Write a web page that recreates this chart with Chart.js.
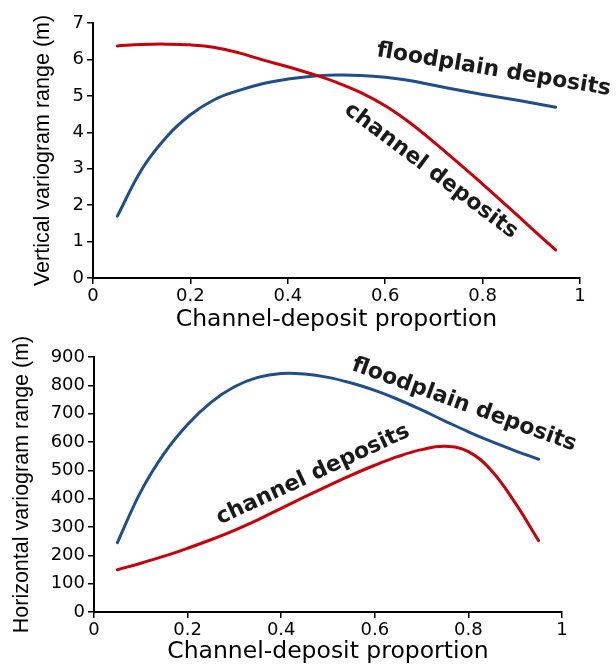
<!DOCTYPE html>
<html>
<head>
<meta charset="utf-8">
<script src="https://cdn.jsdelivr.net/npm/chart.js@4"></script>
<style>
    html, body { margin: 0; padding: 0; background: #fff; overflow: hidden; }
    #wrap { position: relative; width: 616px; height: 666px; }
    canvas { position: absolute; left: 0; }
    #topChart { top: 0; }
    #bottomChart { top: 333px; }
</style>
</head>
<body>
<div id="wrap">
    <canvas id="topChart" width="616" height="336"></canvas>
    <canvas id="bottomChart" width="616" height="333"></canvas>
</div>
<script>
/* =========================
   DATA
========================= */
const proportion = [0.05, 0.10, 0.15, 0.20, 0.25, 0.30, 0.35, 0.40, 0.45, 0.50,
                    0.55, 0.60, 0.65, 0.70, 0.75, 0.80, 0.85, 0.90, 0.95];

// vertical variogram range (m)
const vertChannel    = [6.37, 6.41, 6.42, 6.40, 6.33, 6.18, 5.98, 5.80, 5.60, 5.37,
                        5.09, 4.73, 4.27, 3.73, 3.16, 2.58, 1.98, 1.37, 0.77];
const vertFloodplain = [1.70, 2.98, 3.86, 4.48, 4.90, 5.15, 5.34, 5.46, 5.54, 5.57,
                        5.56, 5.51, 5.42, 5.29, 5.16, 5.04, 4.93, 4.81, 4.69];

// horizontal variogram range (m)
const horzChannel    = [149, 172, 197, 225, 255, 288, 325, 366, 406, 445,
                        483, 518, 549, 573, 585, 566, 498, 385, 252];
const horzFloodplain = [245, 425, 560, 662, 740, 795, 828, 842, 840, 828,
                        808, 782, 750, 713, 674, 636, 601, 569, 539];

const xTickValues = [0, 0.2, 0.4, 0.6, 0.8, 1];
const xTickLabels = ["0", "0.2", "0.4", "0.6", "0.8", "1"];

const RED = "#c8000a";
const BLUE = "#1f4e89";
const TICK_FONT = { family: "DejaVu Sans", size: 18 };

/* =========================
   PLUGIN: CURVE LABELS
========================= */
const curveLabels = {
    id: "curveLabels",
    afterDatasetsDraw(chart, args, opts) {
        const { ctx, scales: { x, y } } = chart;
        ctx.save();
        ctx.font = 'bold 22px "DejaVu Sans"';
        ctx.fillStyle = "#1a1a1a";
        ctx.textAlign = "center";
        ctx.textBaseline = "middle";
        (opts.items || []).forEach(l => {
            ctx.save();
            ctx.translate(x.getPixelForValue(l.x), y.getPixelForValue(l.y));
            ctx.rotate(l.angle * Math.PI / 180);
            ctx.fillText(l.text, 0, 0);
            ctx.restore();
        });
        ctx.restore();
    }
};

function toPoints(values) {
    return values.map((v, i) => ({ x: proportion[i], y: v }));
}

function makeChart(canvasId, cfg) {
    const ctx = document.getElementById(canvasId).getContext("2d");
    return new Chart(ctx, {
        type: "line",
        data: {
            datasets: [
                { data: toPoints(cfg.channel), borderColor: RED },
                { data: toPoints(cfg.floodplain), borderColor: BLUE }
            ]
        },
        plugins: [curveLabels],
        options: {
            responsive: false,
            animation: false,
            layout: { padding: cfg.padding },
            elements: {
                point: { radius: 0 },
                line: { borderWidth: 3, tension: 0.4, borderCapStyle: "round" }
            },
            plugins: {
                legend: { display: false },
                tooltip: { enabled: false },
                curveLabels: { items: cfg.labels }
            },
            scales: {
                x: {
                    type: "linear",
                    min: 0, max: 1,
                    afterBuildTicks: s => { s.ticks = xTickValues.map(v => ({ value: v })); },
                    afterFit: s => { s.height = cfg.xHeight; },
                    ticks: {
                        font: TICK_FONT, color: "#000", padding: 2, maxRotation: 0,
                        callback: (v, i) => xTickLabels[i]
                    },
                    grid: { drawOnChartArea: false, drawTicks: true, tickLength: 6, color: "#000", lineWidth: 1.5 },
                    border: { display: true, color: "#000", width: 2 },
                    title: {
                        display: true, text: "Channel-deposit proportion", color: "#000",
                        font: { family: "DejaVu Sans", size: 23.5 },
                        padding: { top: 0, bottom: cfg.xTitlePad }
                    }
                },
                y: {
                    min: 0, max: cfg.yMax,
                    afterFit: s => { s.width = cfg.yWidth; },
                    ticks: { font: TICK_FONT, color: "#000", padding: 3, stepSize: cfg.yStep },
                    grid: { drawOnChartArea: false, drawTicks: true, tickLength: 6, color: "#000", lineWidth: 1.5 },
                    border: { display: true, color: "#000", width: 2 },
                    title: {
                        display: true, text: cfg.yTitle, color: "#000",
                        font: { family: "Liberation Sans", size: 21.5 },
                        padding: { top: cfg.yTitlePad, bottom: 0 }
                    }
                }
            }
        }
    });
}

/* =========================
   INIT
========================= */
makeChart("topChart", {
    channel: vertChannel,
    floodplain: vertFloodplain,
    yMax: 7, yStep: 1,
    yTitle: "Vertical variogram range (m)",
    yWidth: 93, xHeight: 58,
    yTitlePad: 30, xTitlePad: 2,
    padding: { top: 23, right: 36, left: 0, bottom: 0 },
    labels: [
        { text: "floodplain deposits", x: 0.823, y: 5.71, angle: 9.5 },
        { text: "channel deposits", x: 0.694, y: 2.94, angle: 37 }
    ]
});

makeChart("bottomChart", {
    channel: horzChannel,
    floodplain: horzFloodplain,
    yMax: 900, yStep: 100,
    yTitle: "Horizontal variogram range (m)",
    yWidth: 94, xHeight: 54,
    yTitlePad: 9, xTitlePad: 0,
    padding: { top: 24, right: 54, left: 0, bottom: 0 },
    labels: [
        { text: "floodplain deposits", x: 0.791, y: 731, angle: 20 },
        { text: "channel deposits", x: 0.468, y: 484, angle: -25 }
    ]
});
</script>
</body>
</html>
